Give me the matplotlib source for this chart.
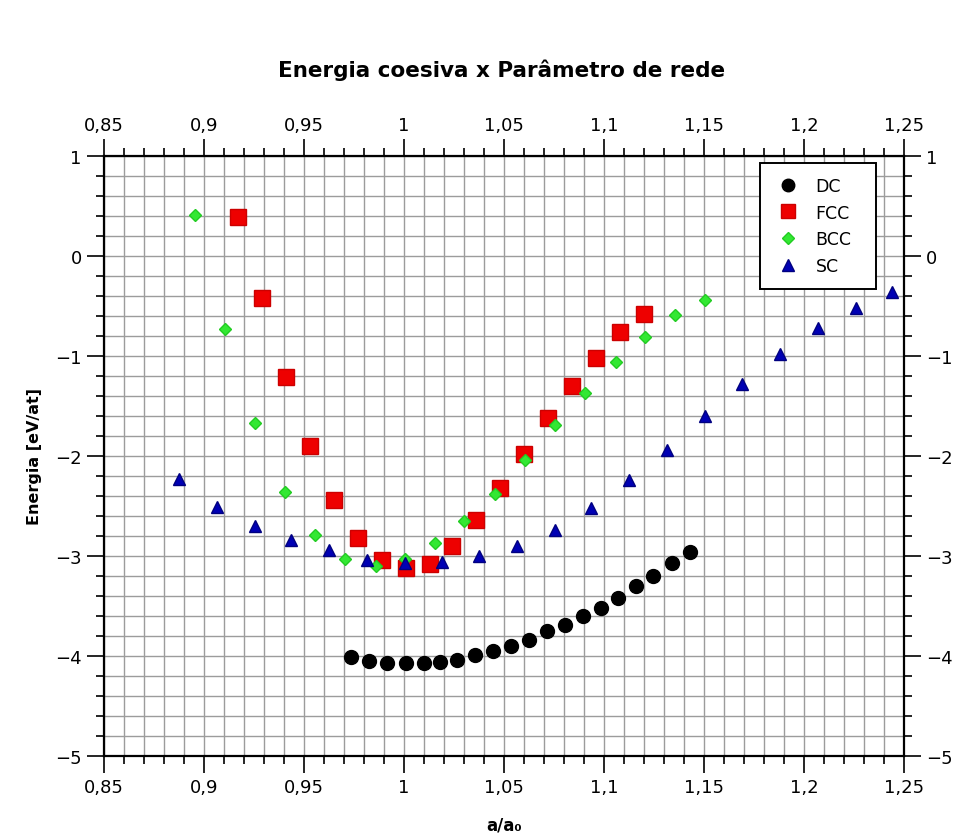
import matplotlib
matplotlib.use("Agg")
import matplotlib.pyplot as plt
from matplotlib.ticker import MultipleLocator, FuncFormatter

# ---- data ----
dc_x = [0.9735, 0.9827, 0.9917, 1.0009, 1.0099, 1.0180, 1.0267, 1.0357, 1.0447, 1.0535,
        1.0625, 1.0713, 1.0807, 1.0897, 1.0987, 1.1068, 1.1158, 1.1247, 1.1338, 1.1430]
dc_y = [-4.01, -4.05, -4.07, -4.07, -4.07, -4.06, -4.04, -3.99, -3.95, -3.90,
        -3.84, -3.75, -3.69, -3.60, -3.52, -3.42, -3.30, -3.20, -3.07, -2.96]

fcc_x = [0.917, 0.929, 0.941, 0.953, 0.965, 0.977, 0.989, 1.001, 1.013, 1.024,
         1.036, 1.048, 1.060, 1.072, 1.084, 1.096, 1.108, 1.120]
fcc_y = [0.39, -0.42, -1.21, -1.90, -2.44, -2.82, -3.04, -3.12, -3.08, -2.90,
         -2.64, -2.32, -1.98, -1.62, -1.30, -1.02, -0.76, -0.58]

bcc_x = [0.8955, 0.9107, 0.9255, 0.9405, 0.9555, 0.9707, 0.9860, 1.0007, 1.0155, 1.0302,
         1.0455, 1.0607, 1.0757, 1.0907, 1.1058, 1.1205, 1.1355, 1.1505]
bcc_y = [0.41, -0.73, -1.67, -2.36, -2.79, -3.03, -3.10, -3.03, -2.87, -2.65,
         -2.38, -2.04, -1.69, -1.37, -1.06, -0.81, -0.59, -0.44]

sc_x = [0.8877, 0.9063, 0.9255, 0.9437, 0.9627, 0.9817, 1.0007, 1.0190, 1.0377, 1.0567,
        1.0757, 1.0935, 1.1125, 1.1317, 1.1507, 1.1688, 1.1880, 1.2068, 1.2260, 1.2440]
sc_y = [-2.23, -2.51, -2.70, -2.84, -2.94, -3.04, -3.07, -3.06, -3.00, -2.90,
        -2.74, -2.52, -2.24, -1.94, -1.60, -1.28, -0.98, -0.72, -0.52, -0.36]

labels = ["DC", "FCC", "BCC", "SC"]
title = "Energia coesiva x Parâmetro de rede"
xlabel = "a/a\u2080"
ylabel = "Energia [eV/at]"

plt.rcParams['font.family'] = ['DejaVu Sans']
plt.rcParams['axes.unicode_minus'] = True

fig = plt.figure(figsize=(9.6, 8.37), dpi=100)
ax = fig.add_axes([104/960, 1-757/837, 800/960, 600/837])

ax.set_xlim(0.85, 1.25)
ax.set_ylim(-5, 1)

ax.xaxis.set_major_locator(MultipleLocator(0.05))
ax.xaxis.set_minor_locator(MultipleLocator(0.01))
ax.yaxis.set_major_locator(MultipleLocator(1))
ax.yaxis.set_minor_locator(MultipleLocator(0.2))

def fmt(v, pos):
    s = f"{v:.2f}".rstrip('0').rstrip('.')
    s = s.replace('.', ',')
    if s == "-0":
        s = "0"
    return s.replace('-', '\u2212')

ax.xaxis.set_major_formatter(FuncFormatter(fmt))
ax.yaxis.set_major_formatter(FuncFormatter(fmt))

ax.grid(which='both', color='#9c9c9c', linewidth=1.0)
ax.set_axisbelow(True)

ax.tick_params(which='both', direction='out', top=True, right=True,
               labeltop=True, labelright=True, labelsize=13, colors='black')
ax.tick_params(which='major', length=12, width=1.2)
ax.tick_params(which='minor', length=6, width=1.2)
ax.tick_params(axis='x', which='major', pad=4)
ax.tick_params(axis='y', which='major', pad=4)
for sp in ax.spines.values():
    sp.set_linewidth(1.6)

ax.plot(dc_x, dc_y, 'o', color='black', markersize=10, label=labels[0], linestyle='none')
ax.plot(fcc_x, fcc_y, 's', color='#ee0000', markeredgecolor='#cc0000', markersize=11,
        label=labels[1], linestyle='none')
ax.plot(bcc_x, bcc_y, 'D', color='#33e833', markeredgecolor='#22cc22', markersize=6.5,
        label=labels[2], linestyle='none')
ax.plot(sc_x, sc_y, '^', color='#0000b4', markeredgecolor='#000080', markersize=9,
        label=labels[3], linestyle='none')

leg = ax.legend(loc='upper left', bbox_to_anchor=(656/800, 1-7/600-0.2, 116/800, 0.2),
                mode='expand', fontsize=12.5,
                frameon=True, fancybox=False, borderpad=0.8, labelspacing=0.5,
                handletextpad=0.8, handlelength=1.6, markerscale=0.9, borderaxespad=0)
leg.get_frame().set_edgecolor('black')
leg.get_frame().set_linewidth(1.4)
leg.get_frame().set_alpha(1)

fig.text(502/960, 1-70/837, title, ha='center', va='center', fontsize=15.5, fontweight='bold')
fig.text(35/960, 1-457/837, ylabel, ha='center', va='center', rotation=90,
         fontsize=11.5, fontweight='bold')
fig.text(504/960, 1-826/837, xlabel, ha='center', va='center', fontsize=12, fontweight='bold')

fig.savefig("out.png", dpi=100)
